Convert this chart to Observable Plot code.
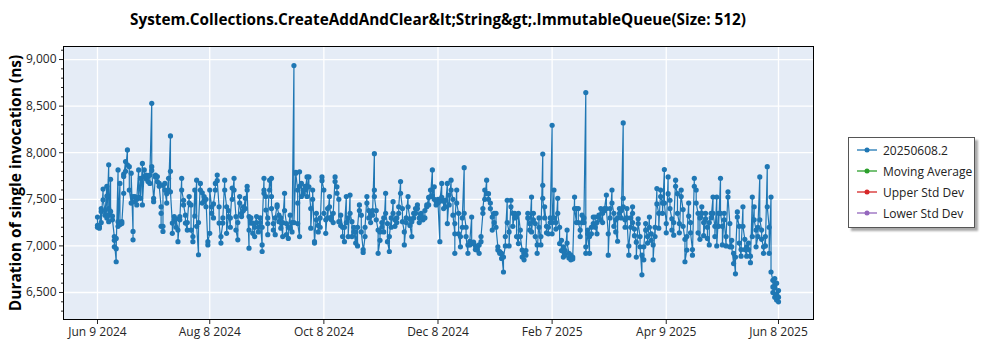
<!DOCTYPE html>
<html><head><meta charset="utf-8">
<script src="https://cdn.jsdelivr.net/npm/d3@7"></script>
<script src="https://cdn.jsdelivr.net/npm/@observablehq/plot@0.6"></script>
<style>
body{margin:0;background:#fff;font-family:"Open Sans",sans-serif;}
#wrap{position:relative;width:1000px;height:350px;overflow:hidden;}
#title{height:40px;width:876px;text-align:center;font-weight:bold;font-size:15.3px;font-family:"Open Sans",sans-serif;line-height:38px;color:#000;}
#legend{position:absolute;left:848px;top:137px;width:125px;height:89px;border:1px solid #555;background:#fff;box-shadow:3px 3px 2px #aaa;}
.item{position:absolute;left:8px;height:16px;font-size:12px;font-family:"Open Sans",sans-serif;color:#222;display:flex;align-items:center;white-space:nowrap;}
.item svg{margin-right:6px;}
g[aria-label="y-axis label"] text{font-size:15.5px;font-weight:bold;fill:#000;}
</style></head>
<body>
<div id="wrap">
<div id="title"></div>
<div id="chart"></div>
<div id="legend"></div>
</div>
<script>
const titleText = "System.Collections.CreateAddAndClear&lt;String&gt;.ImmutableQueue(Size: 512)";
const yLabel = "Duration of single invocation (ns)";
const legendLabels = ["20250608.2", "Moving Average", "Upper Std Dev", "Lower Std Dev"];
const legendColors = ["#1f77b4", "#2ca02c", "#d62728", "#9467bd"];
const xTickDates = ["2024-06-09", "2024-08-08", "2024-10-08", "2024-12-08", "2025-02-07", "2025-04-09", "2025-06-08"];
const yTicks = [6500, 7000, 7500, 8000, 8500, 9000];
const yMinorTicks = [6300,6400,6600,6700,6800,6900,7100,7200,7300,7400,7600,7700,7800,7900,8100,8200,8300,8400,8600,8700,8800,8900,9100];

const dates = [
"2024-06-09","2024-06-10","2024-06-11","2024-06-12","2024-06-13","2024-06-14","2024-06-15","2024-06-16","2024-06-17","2024-06-18","2024-06-19","2024-06-20","2024-06-21","2024-06-22","2024-06-23","2024-06-24","2024-06-25","2024-06-26","2024-06-27","2024-06-28","2024-06-29","2024-06-30",
"2024-07-01","2024-07-02","2024-07-03","2024-07-04","2024-07-05","2024-07-06","2024-07-07","2024-07-08","2024-07-09","2024-07-10","2024-07-11","2024-07-12","2024-07-13","2024-07-14","2024-07-15","2024-07-16","2024-07-17","2024-07-18","2024-07-19","2024-07-20","2024-07-21","2024-07-22","2024-07-23","2024-07-24","2024-07-25","2024-07-26","2024-07-27","2024-07-28","2024-07-29","2024-07-30","2024-07-31",
"2024-08-01","2024-08-02","2024-08-03","2024-08-04","2024-08-05","2024-08-06","2024-08-07","2024-08-08","2024-08-09","2024-08-10","2024-08-11","2024-08-12","2024-08-13","2024-08-14","2024-08-15","2024-08-16","2024-08-17","2024-08-18","2024-08-19","2024-08-20","2024-08-21","2024-08-22","2024-08-23","2024-08-24","2024-08-25","2024-08-26","2024-08-27","2024-08-28","2024-08-29","2024-08-30","2024-08-31",
"2024-09-01","2024-09-02","2024-09-03","2024-09-04","2024-09-05","2024-09-06","2024-09-07","2024-09-08","2024-09-09","2024-09-10","2024-09-11","2024-09-12","2024-09-13","2024-09-14","2024-09-15","2024-09-16","2024-09-17","2024-09-18","2024-09-19","2024-09-20","2024-09-21","2024-09-22","2024-09-23","2024-09-24","2024-09-25","2024-09-26","2024-09-27","2024-09-28","2024-09-29","2024-09-30",
"2024-10-01","2024-10-02","2024-10-03","2024-10-04","2024-10-05","2024-10-06","2024-10-07","2024-10-08","2024-10-09","2024-10-10","2024-10-11","2024-10-12","2024-10-13","2024-10-14","2024-10-15","2024-10-16","2024-10-17","2024-10-18","2024-10-19","2024-10-20","2024-10-21","2024-10-22","2024-10-23","2024-10-24","2024-10-25","2024-10-26","2024-10-27","2024-10-28","2024-10-29","2024-10-30","2024-10-31",
"2024-11-01","2024-11-02","2024-11-03","2024-11-04","2024-11-05","2024-11-06","2024-11-07","2024-11-08","2024-11-09","2024-11-10","2024-11-11","2024-11-12","2024-11-13","2024-11-14","2024-11-15","2024-11-16","2024-11-17","2024-11-18","2024-11-19","2024-11-20","2024-11-21","2024-11-22","2024-11-23","2024-11-24","2024-11-25","2024-11-26","2024-11-27","2024-11-28","2024-11-29","2024-11-30",
"2024-12-01","2024-12-02","2024-12-03","2024-12-04","2024-12-05","2024-12-06","2024-12-07","2024-12-08","2024-12-09","2024-12-10","2024-12-11","2024-12-12","2024-12-13","2024-12-14","2024-12-15","2024-12-16","2024-12-17","2024-12-18","2024-12-19","2024-12-20","2024-12-21","2024-12-22","2024-12-23","2024-12-24","2024-12-25","2024-12-26","2024-12-27","2024-12-28","2024-12-29","2024-12-30","2024-12-31",
"2025-01-01","2025-01-02","2025-01-03","2025-01-04","2025-01-05","2025-01-06","2025-01-07","2025-01-08","2025-01-09","2025-01-10","2025-01-11","2025-01-12","2025-01-13","2025-01-14","2025-01-15","2025-01-16","2025-01-17","2025-01-18","2025-01-19","2025-01-20","2025-01-21","2025-01-22","2025-01-23","2025-01-24","2025-01-25","2025-01-26","2025-01-27","2025-01-28","2025-01-29","2025-01-30","2025-01-31",
"2025-02-01","2025-02-02","2025-02-03","2025-02-04","2025-02-05","2025-02-06","2025-02-07","2025-02-08","2025-02-09","2025-02-10","2025-02-11","2025-02-12","2025-02-13","2025-02-14","2025-02-15","2025-02-16","2025-02-17","2025-02-18","2025-02-19","2025-02-20","2025-02-21","2025-02-22","2025-02-23","2025-02-24","2025-02-25","2025-02-26","2025-02-27","2025-02-28",
"2025-03-01","2025-03-02","2025-03-03","2025-03-04","2025-03-05","2025-03-06","2025-03-07","2025-03-08","2025-03-09","2025-03-10","2025-03-11","2025-03-12","2025-03-13","2025-03-14","2025-03-15","2025-03-16","2025-03-17","2025-03-18","2025-03-19","2025-03-20","2025-03-21","2025-03-22","2025-03-23","2025-03-24","2025-03-25","2025-03-26","2025-03-27","2025-03-28","2025-03-29","2025-03-30","2025-03-31",
"2025-04-01","2025-04-02","2025-04-03","2025-04-04","2025-04-05","2025-04-06","2025-04-07","2025-04-08","2025-04-09","2025-04-10","2025-04-11","2025-04-12","2025-04-13","2025-04-14","2025-04-15","2025-04-16","2025-04-17","2025-04-18","2025-04-19","2025-04-20","2025-04-21","2025-04-22","2025-04-23","2025-04-24","2025-04-25","2025-04-26","2025-04-27","2025-04-28","2025-04-29","2025-04-30",
"2025-05-01","2025-05-02","2025-05-03","2025-05-04","2025-05-05","2025-05-06","2025-05-07","2025-05-08","2025-05-09","2025-05-10","2025-05-11","2025-05-12","2025-05-13","2025-05-14","2025-05-15","2025-05-16","2025-05-17","2025-05-18","2025-05-19","2025-05-20","2025-05-21","2025-05-22","2025-05-23","2025-05-24","2025-05-25","2025-05-26","2025-05-27","2025-05-28","2025-05-29","2025-05-30","2025-05-31",
"2025-06-01","2025-06-02","2025-06-03","2025-06-04","2025-06-05","2025-06-06","2025-06-07","2025-06-08"
];

const durations = [
// Jun 2024
[7310,7220,7200],[7190,7210],[7400,7370,7250],[7610,7495],[7380,7330],[7640,7535,7300],[7870,7400,7330,7260],[7715,7370],[7320,7280],[7100,6990,7060],[6830,7080,6970],[7815,7260,7210],[7670,7230],[7260,7240],[7565,7770,7745],[7905,7800],[8030,7870],[7850,7600],[7460,7780],[7155,7065,7530],[7530,7475],[7440,7500],
// Jul 2024
[7815,7520],[7725,7510],[7885,7440],[7815,7745],[7760,7720],[7745,7690],[7670,7760],[8530,7850,7810],[7510,7475],[7760,7740],[7745,7690],[7670,7640],[7420,7350,7210],[7210,7155,7650],[7670,7600],[7460,7560],[7725,7600],[8180,7800,7580],[7245,7135],[7315,7280],[7200,7290],[7170,7045],[7315,7280],[7725,7600],[7490,7440],[7330,7245],[7170,7250],[7530,7460],[7440,7170],[7100,7045],[7600,7320],
// Aug 2024
[7705,7210],[6905,7250],[7670,7600],[7570,7460],[7530,7480],[7420,7500],[7010,7045],[7135,7600],[7420,7350],[7300,7450],[7600,7670],[7760,7700],[7420,7245],[7030,7100],[7245,7300],[7705,7600],[7420,7135],[7315,7380],[7200,7300],[7620,7500],[7725,7600],[7315,7170],[7065,7250],[7530,7460],[7315,7350],[7420,7380],[7510,7400],[7640,7600],[6975,7170,7315],[7245,7300],[7245,7135],
// Sep 2024
[7100,7200],[7315,7250],[7200,7150],[7300,7250],[7010,6940,7200],[7725,7600,7565],[7530,7385],[7240,7120,7300],[7705,7600],[7725,7530,7400],[7240,7170],[7120,7300],[7440,7420],[7330,7260],[7190,7300],[7100,7250],[7565,7380],[7240,7120],[7080,7200],[7330,7190],[7250,7150],[8935,7250],[7790,7780],[7600,7460,7240],[7100,7795,7640],[7670,7530],[7600,7560],[7640,7600],[7740,7530],[7740,7635],
// Oct 2024
[7400,7190],[7500,7600],[7045,7030],[7350,7280],[7220,7150],[7300,7200],[7740,7700],[7600,7350],[7280,7135],[7400,7300],[7530,7420],[7310,7280],[7250,7350],[7740,7690],[7635,7565],[7500,7260],[7220,7330],[7200,7100],[7045,7200],[7530,7250],[7300,7100],[7545,7350],[7260,7100],[7200,7150],[7030,7150],[7000,7200],[7440,7380],[7330,7150],[6960,6930],[7100,7200],[7530,7460],
// Nov 2024
[7380,7300],[7350,7250],[7380,7330],[7990,7600,7530],[7380,7280],[7170,6920],[7060,7150],[7250,7200],[7300,7150],[7565,7350],[7240,7045],[6940,7100],[7300,7200],[7475,7350],[7280,7210],[7300,7250],[7350,7420],[7690,7565],[7400,7260],[7150,7010],[7250,7300],[7530,7420],[7290,7220],[7100,7260],[7300,7350],[7400,7350],[7440,7400],[7300,7250],[7350,7330],[7280,7300],
// Dec 2024
[7300,7380],[7440,7420],[7520,7440],[7600,7530],[7815,7540],[7635,7500],[7480,7440],[7500,7460],[7045,7480],[7670,7520],[7480,7400],[7490,7420],[7670,7240],[7545,7440],[7705,7600],[7500,7330],[7130,6920,7240],[7600,7460],[7350,7130],[6990,7100],[7200,7300],[7840,7350],[7200,7100],[6920,7010],[7010,7050],[7310,7030],[7025,7040],[7000,6960],[6955,6990],[6920,7010],[7045,7100],
// Jan 2025
[7350,7400],[7600,7500],[7705,7560],[7560,7500],[7460,7400],[7310,7170],[7250,7350],[7350,7200],[6990,6955],[6920,6940],[6865,6920],[6720,6880],[7000,7100],[7490,7250],[7150,7000],[7490,7420],[7350,7210],[7350,7300],[7310,7100],[7025,7350],[7170,7100],[6955,6880],[6850,6920],[6900,6950],[7350,7300],[7240,7170],[7525,7150],[7350,7280],[7240,7100],[7010,6920],[7300,7200],
// Feb 2025
[7010,7100],[7985,7650,7510],[7300,7420],[7210,7140],[7130,7200],[7250,7300],[8295,7250,7130],[7600,7300],[7250,7180],[7510,7350],[7200,7025],[7060,6950],[6880,6990],[6950,6900],[7170,7030],[6920,6870],[6850,6900],[6880,6860],[7525,7400],[7250,7400],[7400,7250],[7170,7100],[7330,7250],[7250,7300],[8645,6990,6920],[7170,7130],[6920,7100],[7130,7200],
// Mar 2025
[7240,7310],[7310,7200],[7130,7250],[7330,7310],[7400,7280],[7250,7350],[7380,7400],[7545,7400],[7130,6900],[7400,7300],[7600,7460],[7350,7210],[7280,7150],[7050,7300],[7400,7350],[7380,7300],[8320,7510,7420],[7280,7200],[7400,7300],[6900,7000],[7200,7300],[7420,7350,7250],[7180,7110],[7040,6880],[7290,7240],[7100,6990],[6690,6900],[6850,6990],[7240,7170],[7100,7030],[7310,7200],
// Apr 2025
[7130,7060],[7010,6850],[7200,7100],[7615,7450],[7350,7190],[7600,7530],[7460,7350],[7820,7460],[7240,7140],[7740,7560],[7490,7400],[7290,7170],[7115,7250],[7705,7640],[7560,7350],[7240,7140],[7600,7530],[7390,7210],[7070,6830],[6955,7100],[7460,7320],[7250,7140],[6960,6900],[7725,7640],[7600,7460],[7350,7140],[7070,7300],[7420,7350],[7250,7110],[7290,7350],
// May 2025
[7200,7080],[7010,7250],[7350,7300],[7525,7350],[7210,7100],[7525,7000],[7350,7210],[7725,7350],[7210,7010],[7350,7280],[7000,7100],[7580,7525],[7240,6990],[7060,6990],[6810,6920],[6700,6880],[7365,7310],[7210,7030],[6890,6960],[7420,7210],[7070,6960],[6890,6990],[7030,6960],[6890,6820],[7525,7100],[7420,7280],[7170,6990],[7100,7200],[7740,7280],[7170,7070],[6990,6920],
// Jun 2025
[7100,7000],[7850,7420],[7200,6920],[7525,6720],[6630,6560,6500],[6650,6450,6550],[6600,6480,6420],[6520,6450,6400]
];

document.getElementById("title").textContent = titleText;

const rows = dates.flatMap((d, i) => durations[i].map(v => ({date: new Date(d), value: v})));
const blue = legendColors[0];

const chart = Plot.plot({
  width: 830, height: 310,
  marginLeft: 63, marginRight: 17, marginTop: 6, marginBottom: 31,
  style: {fontFamily: "Open Sans, sans-serif", fontSize: "12px", color: "#262626", background: "transparent", overflow: "visible"},
  x: {type: "utc", domain: [new Date("2024-05-21T20:00Z"), new Date("2025-06-26T17:00Z")], label: null},
  y: {domain: [6210, 9140], label: null},
  marks: [
    Plot.frame({fill: "#e5ecf6"}),
    Plot.gridX(xTickDates.map(d => new Date(d)), {stroke: "white", strokeOpacity: 1, strokeWidth: 1.3}),
    Plot.gridY(yTicks, {stroke: "white", strokeOpacity: 1, strokeWidth: 1.3}),
    Plot.axisY(yMinorTicks, {tickSize: 2, tickFormat: () => "", label: null}),
    Plot.axisY(yTicks, {tickSize: 4, tickPadding: 3, tickFormat: d3.format(","), label: yLabel, labelAnchor: "center", labelArrow: "none", labelOffset: 54}),
    Plot.axisX(xTickDates.map(d => new Date(d)), {tickSize: 5, tickPadding: 3, tickFormat: d3.utcFormat("%b %-d %Y"), label: null}),
    Plot.line(rows, {x: "date", y: "value", stroke: blue, strokeWidth: 1.2}),
    Plot.dot(rows, {x: "date", y: "value", r: 2.6, fill: blue}),
    Plot.frame({stroke: "black", strokeWidth: 1})
  ]
});
document.getElementById("chart").appendChild(chart);

const legend = document.getElementById("legend");
legendLabels.forEach((lab, i) => {
  const item = document.createElement("div");
  item.className = "item";
  item.style.top = (4 + i * 21) + "px";
  item.innerHTML = `<svg width="20" height="8"><line x1="0" y1="4" x2="20" y2="4" stroke="${legendColors[i]}" stroke-width="1.3"/><circle cx="10" cy="4" r="2.5" fill="${legendColors[i]}"/></svg>`;
  const span = document.createElement("span");
  span.textContent = lab;
  item.appendChild(span);
  legend.appendChild(item);
});
</script>
</body></html>
